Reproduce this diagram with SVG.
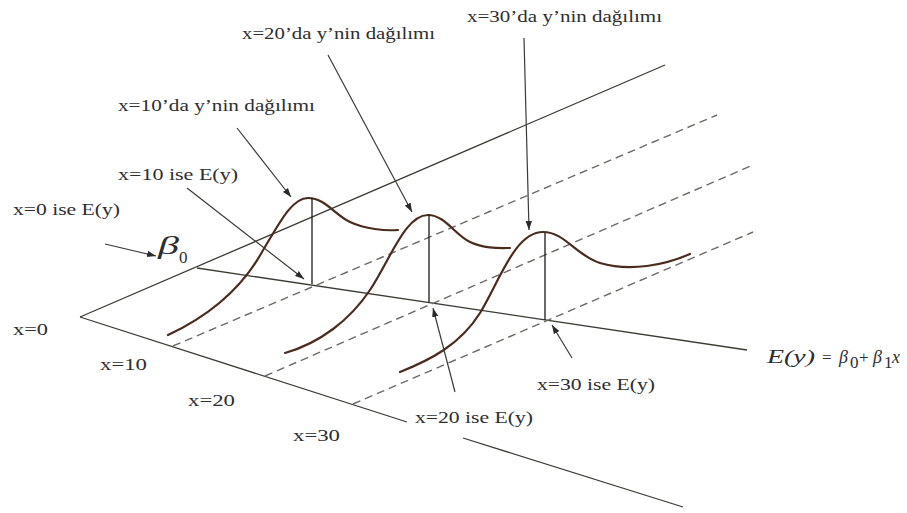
<svg xmlns="http://www.w3.org/2000/svg" width="907" height="513" viewBox="0 0 907 513">
<defs>
<marker id="ah" markerUnits="userSpaceOnUse" markerWidth="10" markerHeight="8" refX="9" refY="4" orient="auto">
<path d="M0,0.8 L9,4 L0,7.2 Z" fill="#2a2a2a"/>
</marker>
<style>
.ax{fill:none;stroke:#3c3c34;stroke-width:1.3}
.da{fill:none;stroke:#6a6a66;stroke-width:1.4;stroke-dasharray:8 5}
.cv{fill:none;stroke:#4a2c1e;stroke-width:2.2;stroke-linecap:round}
.vl{fill:none;stroke:#1a1a1a;stroke-width:1.3}
.ar{fill:none;stroke:#3a3a36;stroke-width:1.2;marker-end:url(#ah)}
.t{font-family:"Liberation Serif","Times New Roman",serif;font-size:17px;fill:#2e2e2e}
.ti{font-family:"Liberation Serif","Times New Roman",serif;font-style:italic;fill:#2e2e2e}
</style>
</defs>
<rect width="907" height="513" fill="#ffffff"/>

<g id="axes">
<line class="ax" x1="80" y1="317" x2="665" y2="65"/>
<line class="ax" x1="80" y1="317" x2="407" y2="422"/>
<line class="ax" x1="463" y1="438" x2="683" y2="507"/>
<line class="ax" x1="197" y1="268" x2="747" y2="350"/>
</g>

<g id="dashed">
<line class="da" x1="173" y1="346" x2="717" y2="115"/>
<line class="da" x1="265" y1="376" x2="753" y2="165"/>
<line class="da" x1="353" y1="404" x2="753" y2="232"/>
</g>

<g id="curves">
<path id="curve10" class="cv" d="M168,335 C200,320 238,295 262,252 C280,222 292,198 308,198 C325,198 335,215 350,222 C365,229 385,231 398,230"/>
<path id="curve20" class="cv" d="M285,353 C320,343 350,320 370,290 C390,260 405,215 428,215 C445,215 455,235 470,242 C485,249 500,248 510,248"/>
<path id="curve30" class="cv" d="M400,372 C430,360 460,345 480,313 C500,280 515,232 543,232 C565,232 575,255 600,263 C630,272 665,265 690,254"/>
</g>

<g id="means">
<line class="vl" x1="312" y1="198" x2="312" y2="284"/>
<line class="vl" x1="429" y1="215" x2="429" y2="302"/>
<line class="vl" x1="545" y1="233" x2="545" y2="320"/>
</g>

<g id="connectors">
<line class="ar" x1="524" y1="38" x2="529" y2="230"/>
<line class="ar" x1="328" y1="55" x2="412" y2="212"/>
<line class="ar" x1="237" y1="128" x2="291" y2="197"/>
<line class="ar" x1="187" y1="188" x2="304" y2="279"/>
<line class="ar" x1="105" y1="244" x2="156" y2="256"/>
<line class="ar" x1="455" y1="392" x2="433" y2="308"/>
<line class="ar" x1="572" y1="358" x2="552" y2="325"/>
</g>

<g id="label-dist30"><text class="t" x="467" y="22" textLength="195" lengthAdjust="spacingAndGlyphs">x=30’da y’nin dağılımı</text></g>
<g id="label-dist20"><text class="t" x="242" y="39" textLength="193" lengthAdjust="spacingAndGlyphs">x=20’da y’nin dağılımı</text></g>
<g id="label-dist10"><text class="t" x="118" y="111" textLength="197" lengthAdjust="spacingAndGlyphs">x=10’da y’nin dağılımı</text></g>
<g id="label-ey10"><text class="t" x="118" y="180" textLength="120" lengthAdjust="spacingAndGlyphs">x=10 ise E(y)</text></g>
<g id="label-ey0"><text class="t" x="13" y="215" textLength="107" lengthAdjust="spacingAndGlyphs">x=0 ise E(y)</text></g>
<g id="label-beta0">
<text class="ti" x="158" y="254" font-size="26" textLength="21" lengthAdjust="spacingAndGlyphs">β</text>
<text class="t" x="179" y="263" font-size="14">0</text>
</g>
<g id="label-x0"><text class="t" x="13" y="335" textLength="35" lengthAdjust="spacingAndGlyphs">x=0</text></g>
<g id="label-x10"><text class="t" x="100" y="370" textLength="47" lengthAdjust="spacingAndGlyphs">x=10</text></g>
<g id="label-x20"><text class="t" x="188" y="406" textLength="47" lengthAdjust="spacingAndGlyphs">x=20</text></g>
<g id="label-x30"><text class="t" x="293" y="441" textLength="47" lengthAdjust="spacingAndGlyphs">x=30</text></g>
<g id="label-ey20"><text class="t" x="415" y="423" textLength="118" lengthAdjust="spacingAndGlyphs">x=20 ise E(y)</text></g>
<g id="label-ey30"><text class="t" x="537" y="390" textLength="118" lengthAdjust="spacingAndGlyphs">x=30 ise E(y)</text></g>
<g id="label-formula">
<text class="ti" x="767" y="363" font-size="19" textLength="48" lengthAdjust="spacingAndGlyphs">E(y)</text>
<text class="t" x="822" y="363" font-size="18">=</text>
<text class="ti" x="839" y="363" font-size="18">β</text>
<text class="t" x="850" y="368" font-size="11">0</text>
<text class="t" x="859" y="363" font-size="18">+</text>
<text class="ti" x="873" y="363" font-size="18">β</text>
<text class="t" x="884" y="368" font-size="11">1</text>
<text class="ti" x="892" y="363" font-size="18">x</text>
</g>
</svg>
